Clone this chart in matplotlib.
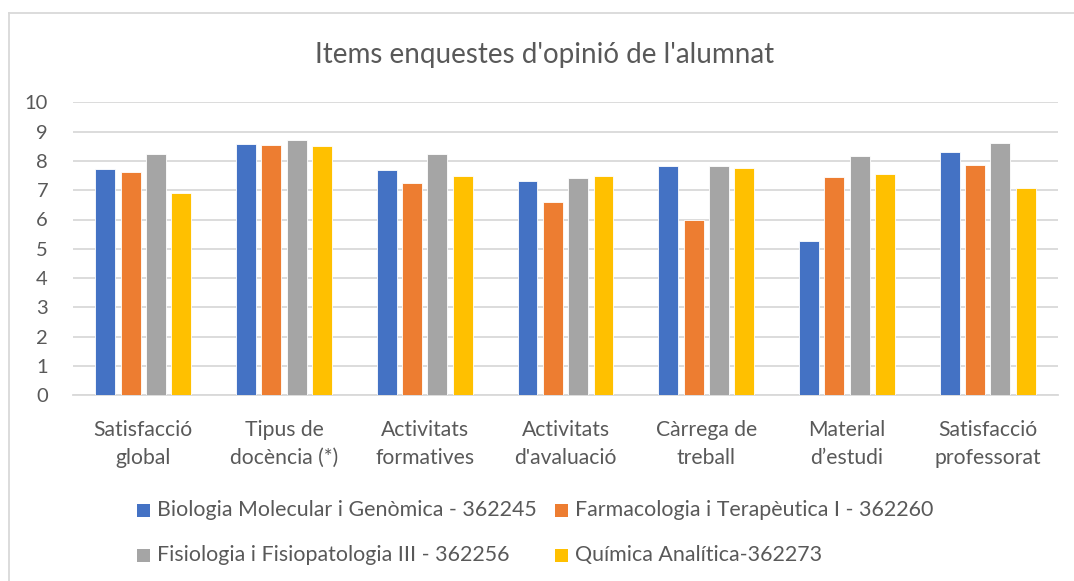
import matplotlib
matplotlib.use("Agg")
import matplotlib.pyplot as plt
from matplotlib.patches import Rectangle
from matplotlib.lines import Line2D
import numpy as np

plt.rcParams['font.family'] = ['Lato', 'DejaVu Sans']

categories = ["Satisfacció\nglobal", "Tipus de\ndocència (*)", "Activitats\nformatives",
              "Activitats\nd'avaluació", "Càrrega de\ntreball", "Material\nd\u2019estudi",
              "Satisfacció\nprofessorat"]
series_names = ["Biologia Molecular i Genòmica - 362245",
                "Farmacologia i Terapèutica I - 362260",
                "Fisiologia i Fisiopatologia III - 362256",
                "Química Analítica-362273"]
biologia = [7.74, 8.57, 7.68, 7.33, 7.84, 5.27, 8.29]
farmacologia = [7.61, 8.53, 7.25, 6.61, 5.98, 7.45, 7.85]
fisiologia = [8.24, 8.71, 8.25, 7.43, 7.83, 8.17, 8.61]
quimica = [6.91, 8.51, 7.49, 7.49, 7.76, 7.55, 7.09]
title = "Items enquestes d'opinió de l'alumnat"
yticks = [0, 1, 2, 3, 4, 5, 6, 7, 8, 9, 10]

colors = ["#4472C4", "#ED7D31", "#A5A5A5", "#FFC000"]
text_color = "#595959"
grid_color = "#D9D9D9"

W, H = 1074, 581
fig = plt.figure(figsize=(W / 100, H / 100), dpi=100)
ax = fig.add_axes([73 / W, 1 - 395.3 / H, (1058 - 73) / W, (395.3 - 102.3) / H])

x = np.arange(len(categories))
pitch = 0.18
bw = 0.142
all_series = [biologia, farmacologia, fisiologia, quimica]
for i, (vals, c) in enumerate(zip(all_series, colors)):
    ax.bar(x + (i - 1.5) * pitch, vals, width=bw, color=c, edgecolor="white",
           linewidth=0.6, zorder=3)

ax.set_xlim(-0.5, len(categories) - 0.5)
ax.set_ylim(0, 10)
ax.set_yticks(yticks)
ax.set_yticklabels([str(t) for t in yticks])
ax.set_xticks(x)
ax.set_xticklabels(categories, linespacing=1.5, fontsize=15.2)
ax.yaxis.grid(True, color=grid_color, linewidth=1.3, zorder=0)
ax.set_axisbelow(True)
for s in ["top", "right", "left"]:
    ax.spines[s].set_visible(False)
ax.spines["bottom"].set_color(grid_color)
ax.spines["bottom"].set_linewidth(1.3)
ax.tick_params(axis="both", length=0, colors=text_color)
ax.tick_params(axis="y", pad=18, labelsize=14.5)
ax.tick_params(axis="x", pad=18)

fig.text(545 / W, 1 - 55 / H, title, ha="center", va="center", fontsize=20, color=text_color)

# legend (manual, two columns)
sq = 13
positions = [(137, 510), (555, 510), (137, 555), (555, 555)]
for (px, py), name, c in zip(positions, series_names, colors):
    fig.add_artist(Rectangle(((px) / W, 1 - (py + sq / 2) / H), sq / W, sq / H,
                             transform=fig.transFigure, facecolor=c, edgecolor="none"))
    fig.text((px + 20) / W, 1 - py / H, name, ha="left", va="center", fontsize=15.4,
             color=text_color)

# chart border
fig.add_artist(Line2D([9 / W, 9 / W], [0, 1 - 13 / H], transform=fig.transFigure,
                      color=grid_color, linewidth=1.3))
fig.add_artist(Line2D([9 / W, 1], [1 - 13 / H, 1 - 13 / H], transform=fig.transFigure,
                      color=grid_color, linewidth=1.3))

fig.savefig("out.png", dpi=100)
